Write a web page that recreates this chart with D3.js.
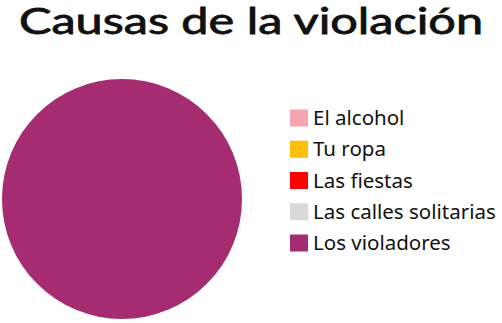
<!DOCTYPE html>
<html><head><meta charset="utf-8">
<script src="https://cdn.jsdelivr.net/npm/d3@7"></script>
<style>body{margin:0;background:#fff;}svg{display:block;}</style>
</head><body>
<svg id="c" width="502" height="323"></svg>
<script>
const title = "Causas de la violación";
const categories = ["El alcohol", "Tu ropa", "Las fiestas", "Las calles solitarias", "Los violadores"];
const values = [0, 0, 0, 0, 100];
const colors = ["#f6a4b0", "#fcbf0c", "#fe0000", "#d9d9d9", "#a62c72"];

const svg = d3.select("#c");
svg.append("text").attr("x", 251).attr("y", 34).attr("text-anchor", "middle")
  .attr("font-family", "Lato, sans-serif").attr("font-size", 36).attr("font-weight", 400)
  .attr("textLength", 464).attr("lengthAdjust", "spacingAndGlyphs")
  .attr("fill", "#111").attr("stroke", "#111").attr("stroke-width", 0.8).text(title);

const color = d3.scaleOrdinal().domain(categories).range(colors);
const pie = d3.pie().sort(null).value(d => d.v);
const data = categories.map((c, i) => ({c, v: values[i]}));
const arc = d3.arc().innerRadius(0).outerRadius(120);
svg.append("g").attr("transform", "translate(122,199)")
  .selectAll("path").data(pie(data)).join("path")
  .attr("d", arc).attr("fill", d => color(d.data.c));

const ly = d3.scalePoint().domain(categories).range([118, 243]);
const lg = svg.append("g");
const items = lg.selectAll("g").data(categories).join("g")
  .attr("transform", d => `translate(290,${ly(d)})`);
items.append("rect").attr("x", 0).attr("y", -8.5).attr("width", 18).attr("height", 17)
  .attr("fill", d => color(d));
items.append("text").attr("x", 23).attr("y", 7).attr("font-family", "'Noto Sans', sans-serif")
  .attr("font-size", 20.5).attr("fill", "#111").text(d => d);
</script>
</body></html>
